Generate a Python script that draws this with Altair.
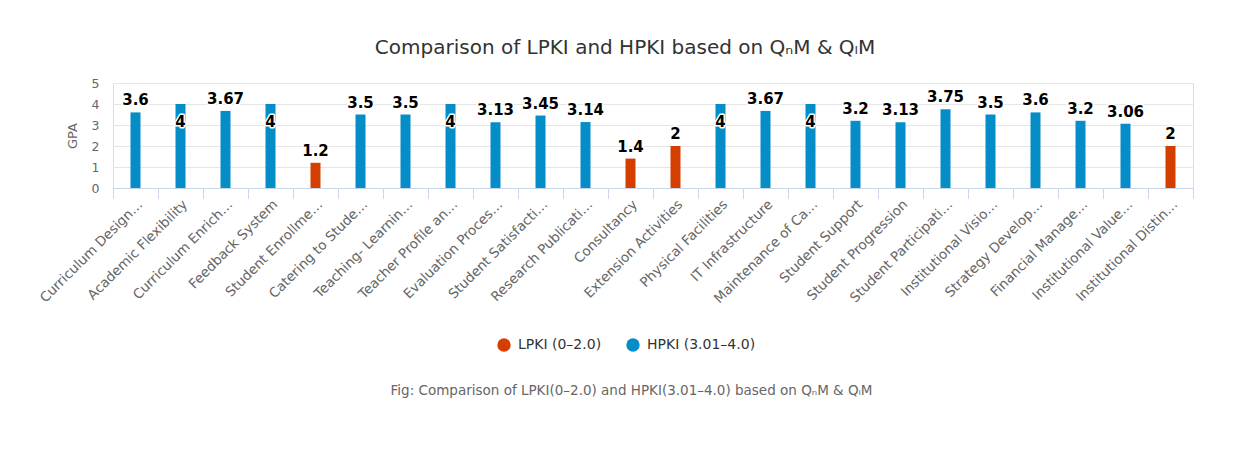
import altair as alt
import pandas as pd

categories = [
    "Curriculum Design…", "Academic Flexibility", "Curriculum Enrich…", "Feedback System",
    "Student Enrollme…", "Catering to Stude…", "Teaching- Learnin…", "Teacher Profile an…",
    "Evaluation Proces…", "Student Satisfacti…", "Research Publicati…", "Consultancy",
    "Extension Activities", "Physical Facilities", "IT Infrastructure", "Maintenance of Ca…",
    "Student Support", "Student Progression", "Student Participati…", "Institutional Visio…",
    "Strategy Develop…", "Financial Manage…", "Institutional Value…", "Institutional Distin…",
]
gpa = [3.6, 4, 3.67, 4, 1.2, 3.5, 3.5, 4, 3.13, 3.45, 3.14, 1.4,
       2, 4, 3.67, 4, 3.2, 3.13, 3.75, 3.5, 3.6, 3.2, 3.06, 2]
LP = "LPKI (0–2.0)"
HP = "HPKI (3.01–4.0)"
series = [HP, HP, HP, HP, LP, HP, HP, HP, HP, HP, HP, LP,
          LP, HP, HP, HP, HP, HP, HP, HP, HP, HP, HP, LP]
y_ticks = [0, 1, 2, 3, 4, 5]

df = pd.DataFrame({"cat": categories, "gpa": gpa, "series": series})
df["label"] = df["gpa"].map(lambda v: f"{v:g}")

FONT = "DejaVu Sans"
GRAY = "#666666"
AXIS_C = "#ccd6eb"

base = alt.Chart(df)

x_labels = alt.X(
    "cat:N", sort=categories,
    scale=alt.Scale(paddingInner=0, paddingOuter=0),
    axis=alt.Axis(
        orient="bottom", labelAngle=-45, labelColor=GRAY, labelFontSize=13.5, labelFont=FONT,
        labelLimit=300, ticks=False, grid=False, domainColor=AXIS_C, labelPadding=9,
        labelOverlap=False,
        title="Fig: Comparison of LPKI(0–2.0) and HPKI(3.01–4.0) based on QₙM & QₗM",
        titleFont=FONT, titleFontSize=13.5, titleFontWeight="normal", titleColor=GRAY,
        titleX=518, titleY=202, titleAlign="center", titleBaseline="middle", titleAnchor="start",
    ),
)
y_enc = alt.Y(
    "gpa:Q",
    scale=alt.Scale(domain=[0, 5], nice=False),
    axis=alt.Axis(values=y_ticks, grid=True, gridColor="#e6e6e6", domain=False, ticks=False,
                  labelOverlap=False, labelFlush=False,
                  labelColor=GRAY, labelFontSize=12.5, labelFont=FONT, labelPadding=14,
                  title="GPA", titleColor=GRAY, titleFont=FONT, titleFontSize=13,
                  titleFontWeight="normal", titlePadding=12),
)

bars = base.mark_bar(width=10).encode(
    x=x_labels,
    y=y_enc,
    color=alt.Color(
        "series:N",
        scale=alt.Scale(domain=[LP, HP], range=["#D43F00", "#058DC7"]),
        legend=alt.Legend(
            title=None, orient="none", direction="horizontal", legendX=384, legendY=255,
            symbolType="circle", symbolSize=180, labelFont=FONT, labelFontSize=14,
            labelColor="#333333", columnPadding=24, symbolStrokeWidth=0, padding=0,
            labelOffset=7,
        ),
    ),
)

tick_axis0 = alt.X(
    "cat:N", sort=categories,
    axis=alt.Axis(orient="bottom", bandPosition=0, labels=False, tickSize=10, tickColor=AXIS_C,
                  grid=False, domainColor=AXIS_C, title=None),
)
tick_axis1 = alt.X(
    "cat:N", sort=categories,
    axis=alt.Axis(orient="bottom", bandPosition=1, labels=False, tickSize=10, tickColor=AXIS_C,
                  grid=False, domainColor=AXIS_C, title=None),
)

txt_kw = dict(font=FONT, fontSize=15, fontWeight="bold", baseline="middle", align="center")

top_df = alt.datum.gpa < 4
in_df = alt.datum.gpa >= 4

outline_top = base.transform_filter(top_df).mark_text(
    dy=-12, stroke="white", strokeWidth=3, strokeJoin="round", color="white", **txt_kw
).encode(x=tick_axis0, y=y_enc, text="label:N")
outline_in = base.transform_filter(in_df).mark_text(
    dy=18, stroke="white", strokeWidth=3, strokeJoin="round", color="white", **txt_kw
).encode(x=tick_axis0, y=y_enc, text="label:N")
label_top = base.transform_filter(top_df).mark_text(
    dy=-12, color="#000000", **txt_kw
).encode(x=tick_axis1, y=y_enc, text="label:N")
label_in = base.transform_filter(in_df).mark_text(
    dy=18, color="#000000", **txt_kw
).encode(x=tick_axis1, y=y_enc, text="label:N")

chart = alt.layer(bars, outline_top, outline_in, label_top, label_in).resolve_axis(
    x="independent"
).properties(
    width=1080,
    height=105,
    autosize=alt.AutoSizeParams(type="none"),
    padding={"left": 105, "top": 75, "right": 46, "bottom": 254},
    title=alt.Title(
        "Comparison of LPKI and HPKI based on QₙM & QₗM",
        font=FONT, fontSize=20, fontWeight="normal", color="#333333",
        anchor="middle", frame="group", dx=-28, offset=19,
    ),
).configure_view(stroke="transparent", strokeWidth=0).configure(background="white")

chart.save("out.html", embed_options={"renderer": "svg", "actions": False})
